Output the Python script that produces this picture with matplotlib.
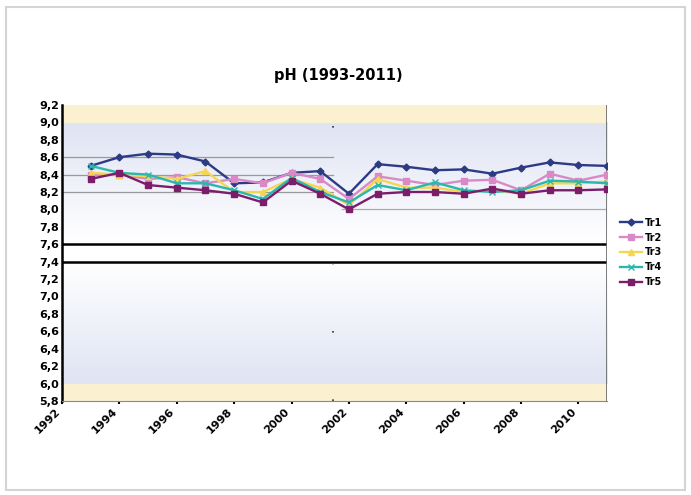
"""pH chart 1993-2011, five stations"""
import numpy as np
import matplotlib
matplotlib.use('Agg')
import matplotlib.pyplot as plt
from matplotlib.patches import Rectangle
from matplotlib.ticker import FuncFormatter

years = list(range(1993, 2012))
tr1 = [8.50, 8.60, 8.64, 8.63, 8.55, 8.30, 8.31, 8.42, 8.44, 8.18, 8.52, 8.49, 8.45, 8.46, 8.41, 8.48, 8.54, 8.51, 8.50]
tr2 = [8.40, 8.40, 8.35, 8.37, 8.30, 8.35, 8.30, 8.42, 8.35, 8.12, 8.38, 8.33, 8.28, 8.33, 8.34, 8.22, 8.41, 8.33, 8.40]
tr3 = [8.42, 8.40, 8.38, 8.35, 8.44, 8.20, 8.20, 8.35, 8.25, 8.05, 8.35, 8.25, 8.25, 8.20, 8.22, 8.18, 8.30, 8.30, 8.32]
tr4 = [8.50, 8.42, 8.40, 8.30, 8.30, 8.22, 8.12, 8.36, 8.20, 8.08, 8.28, 8.22, 8.31, 8.22, 8.20, 8.22, 8.33, 8.32, 8.30]
tr5 = [8.35, 8.42, 8.28, 8.25, 8.22, 8.18, 8.08, 8.33, 8.18, 8.00, 8.18, 8.20, 8.20, 8.18, 8.24, 8.18, 8.22, 8.22, 8.23]
series_names = ['Tr1', 'Tr2', 'Tr3', 'Tr4', 'Tr5']

# reference levels per period
ref_left = [8.6, 8.4, 8.2]
ref_right = [8.0]
split_year = 2001.45

x_ticks = list(range(1992, 2011, 2))
y_ticks = np.round(np.arange(5.8, 9.21, 0.2), 1)

fig = plt.figure(figsize=(6.91, 4.95), dpi=100)
fig.patch.set_facecolor('white')
fig.add_artist(Rectangle((0.008, 0.01), 0.984, 0.975, transform=fig.transFigure,
                         fill=False, edgecolor='#d4d4d4', linewidth=1.5))

ax = fig.add_axes([0.0897, 0.19, 0.789, 0.598])
ax.set_xlim(1992, 2011)
ax.set_ylim(5.8, 9.2)

# background bands
ext = [1992, 2011]
grad = np.linspace(0, 1, 100).reshape(-1, 1)
blue = np.array([0.875, 0.893, 0.955])
white = np.array([1.0, 1.0, 1.0])
up = (white + (blue - white) * grad).reshape(100, 1, 3)
ax.imshow(up, extent=ext + [7.6, 9.0], aspect='auto', origin='lower', zorder=0)
low = (white + (blue - white) * grad[::-1]).reshape(100, 1, 3)
ax.imshow(low, extent=ext + [6.0, 7.4], aspect='auto', origin='lower', zorder=0)
ax.axhspan(9.0, 9.2, color='#fbf0cf', zorder=0)
ax.axhspan(5.8, 6.0, color='#fbf0cf', zorder=0)
ax.axhline(7.6, color='black', linewidth=1.8, zorder=1)
ax.axhline(7.4, color='black', linewidth=1.8, zorder=1)

for v in ref_left:
    ax.plot([1992, split_year], [v, v], color='#999999', linewidth=0.9, zorder=1)
for v in ref_right:
    ax.plot([split_year + 0.3, 2011], [v, v], color='#aaaaaa', linewidth=0.9, zorder=1)
ax.axvline(split_year, color='#333333', linewidth=1.2, linestyle=(0, (1, 40)), zorder=1)
ax.axvline(2011, color='#666666', linewidth=1.2, zorder=1)

styles = [
    ('#2d3a84', 'D', 3.5),
    ('#d98ac6', 's', 4),
    ('#f4d652', '^', 4),
    ('#2bb7ae', 'x', 4),
    ('#7b1d6b', 's', 4.5),
]
for name, vals, (c, m, ms) in zip(series_names, [tr1, tr2, tr3, tr4, tr5], styles):
    ax.plot(years, vals, color=c, marker=m, markersize=ms, linewidth=1.7,
            label=name, zorder=3)

ax.set_xticks(x_ticks)
ax.set_xticklabels([str(y) for y in x_ticks], rotation=45, ha='right',
                   fontsize=8, fontweight='bold')
ax.set_yticks(y_ticks)
ax.yaxis.set_major_formatter(FuncFormatter(lambda v, p: f'{v:.1f}'.replace('.', ',')))
for lab in ax.get_yticklabels():
    lab.set_fontsize(8)
    lab.set_fontweight('bold')
ax.tick_params(axis='y', length=0, pad=2)
ax.tick_params(axis='x', length=2, width=1.5, pad=2)

for s in ['top', 'right']:
    ax.spines[s].set_visible(False)
ax.spines['left'].set_linewidth(1.8)
ax.spines['bottom'].set_linewidth(0.8)
ax.spines['bottom'].set_color('#888888')

fig.text(0.49, 0.848, 'pH (1993-2011)', ha='center', va='center',
         fontsize=10.5, fontweight='bold')

fig.legend(loc='center left', bbox_to_anchor=(0.885, 0.49), frameon=False,
           prop={'size': 7, 'weight': 'bold'}, handlelength=2.2,
           labelspacing=0.5, handletextpad=0.3)

plt.savefig('out.png', dpi=100)
